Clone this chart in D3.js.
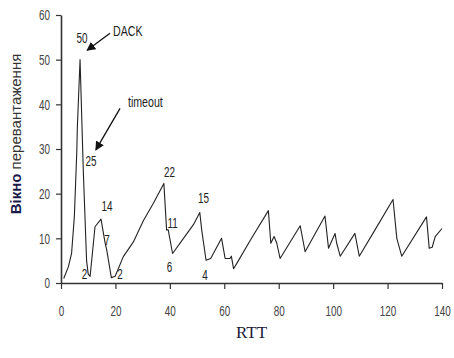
<!DOCTYPE html>
<html>
<head>
    <meta charset="utf-8">
    <title>Вікно перевантаження</title>
    <script src="https://d3js.org/d3.v7.min.js"></script>
    <style>
        body { margin: 0; background: #fff; }
    </style>
</head>
<body>
    <div id="chart"></div>
    <script>

// values
const rtt  = [1, 2.7, 3.9, 4.9, 5.8, 6, 7, 8.2, 9.4, 10, 10.7, 12.5, 14.7, 16.2, 16.8, 18.5,
              19.9, 22.9, 26.6, 30.3, 33.9, 37.8, 38.8, 39.4, 41, 45, 48.6, 51, 51.7, 53.3,
              55, 59, 60.3, 62.1, 62.6, 63.4, 64.6, 70, 76.2, 77.1, 78.3, 79.3, 80.5,
              87.9, 89.7, 97, 98.3, 100.7, 101.3, 102.6, 108, 109.6, 115, 122, 123.4, 125.2,
              134.3, 135.3, 136.4, 137.5, 140];
const cwnd = [1, 3.6, 6.7, 14.8, 29.4, 34.7, 50, 25, 5, 2, 1.5, 12.6, 14.3, 9, 7.4, 1.2,
              1.5, 5.9, 9.2, 14, 17.8, 22.3, 11.9, 11.9, 6.6, 10, 13, 15.8, 11.9, 5.1,
              5.5, 10, 5.5, 5.5, 6, 3.2, 4.4, 10, 16.2, 8.9, 10.4, 8.9, 5.5,
              12.8, 7, 15, 7.8, 11.1, 8.9, 6, 11.1, 6, 11.5, 18.7, 10, 6,
              14.8, 7.8, 8, 10.4, 12.2];

const xTicks = [0, 20, 40, 60, 80, 100, 120, 140];
const yTicks = [0, 10, 20, 30, 40, 50, 60];

const pointLabels = ["50", "25", "14", "7", "2", "2", "22", "11", "6", "15", "4"];
const pointLabelX = [7.7, 11, 16.9, 16.9, 8.6, 21.7, 39.9, 41, 39.9, 52.4, 52.9];
const pointLabelY = [55, 27.3, 17.2, 9.6, 2, 2, 24.8, 13.6, 3.6, 19.1, 1.9];

const notes = ["DACK", "timeout"];
const noteX = [19.1, 24.6];
const noteY = [56.5, 40.5];
const arrowFrom = [[18, 55.9], [21.7, 39.1]];
const arrowTo   = [[9.6, 52.1], [12.8, 29.8]];

const width = 454, height = 358;
const margin = {top: 15, right: 12, bottom: 75, left: 61};
const squeeze = 0.66; // the original uses a tall narrow face

const x = d3.scaleLinear().domain([0, 140]).range([margin.left, width - margin.right]);
const y = d3.scaleLinear().domain([0, 60]).range([height - margin.bottom, margin.top]);

const svg = d3.create("svg")
    .attr("width", width)
    .attr("height", height)
    .attr("viewBox", [0, 0, width, height])
    .style("font-family", "'Liberation Sans', Arial, sans-serif");

svg.append("defs").append("marker")
    .attr("id", "arrow")
    .attr("viewBox", "0 0 10 10")
    .attr("refX", 9).attr("refY", 5)
    .attr("markerWidth", 9).attr("markerHeight", 9)
    .attr("markerUnits", "userSpaceOnUse")
    .attr("orient", "auto")
  .append("path")
    .attr("d", "M0,0 L10,5 L0,10 z")
    .attr("fill", "#111");

// axes
const xAxis = svg.append("g")
    .attr("transform", `translate(0,${y(0)})`)
    .call(d3.axisBottom(x).tickValues(xTicks).tickSize(6).tickPadding(16).tickSizeOuter(0));

const yAxis = svg.append("g")
    .attr("transform", `translate(${x(0)},0)`)
    .call(d3.axisLeft(y).tickValues(yTicks).tickSize(5).tickPadding(6).tickSizeOuter(0));

[xAxis, yAxis].forEach(g => {
  g.select(".domain").attr("stroke", "#333").attr("stroke-width", 1.6);
  g.selectAll(".tick line").attr("stroke", "#333").attr("stroke-width", 1.2);
  g.selectAll(".tick text").attr("fill", "#444").attr("font-size", 15)
      .attr("transform", `scale(${squeeze},1)`);
});
yAxis.selectAll(".tick text").attr("x", -11 / squeeze);

// the series
const line = d3.line()
    .x(i => x(rtt[i]))
    .y(i => y(cwnd[i]));

svg.append("path")
    .attr("d", line(d3.range(rtt.length)))
    .attr("fill", "none")
    .attr("stroke", "#222")
    .attr("stroke-width", 1.1)
    .attr("stroke-linejoin", "round");

// value labels
svg.append("g")
    .attr("font-size", 15)
    .attr("fill", "#222")
    .attr("text-anchor", "middle")
  .selectAll("text")
  .data(pointLabels)
  .join("text")
    .attr("transform", (d, i) => `translate(${x(pointLabelX[i])},${y(pointLabelY[i])}) scale(${squeeze},1)`)
    .attr("dy", "0.35em")
    .text(d => d);

// notes with arrows
svg.append("g")
    .attr("font-size", 14)
    .attr("fill", "#222")
  .selectAll("text")
  .data(notes)
  .join("text")
    .attr("transform", (d, i) => `translate(${x(noteX[i])},${y(noteY[i])}) scale(${squeeze + 0.1},1)`)
    .attr("dy", "0.35em")
    .text(d => d);

svg.append("g")
  .selectAll("line")
  .data(arrowFrom)
  .join("line")
    .attr("x1", d => x(d[0]))
    .attr("y1", d => y(d[1]))
    .attr("x2", (d, i) => x(arrowTo[i][0]))
    .attr("y2", (d, i) => y(arrowTo[i][1]))
    .attr("stroke", "#111")
    .attr("stroke-width", 1.3)
    .attr("marker-end", "url(#arrow)");

// axis titles
svg.append("text")
    .attr("x", (margin.left + width - margin.right) / 2)
    .attr("y", 332)
    .attr("dy", "0.35em")
    .attr("text-anchor", "middle")
    .attr("font-family", "'Liberation Serif', 'Times New Roman', serif")
    .attr("font-size", 17)
    .attr("fill", "#1b1b3a")
    .text("RTT");

const yTitle = svg.append("text")
    .attr("transform", `translate(16,${134}) rotate(-90)`)
    .attr("text-anchor", "middle")
    .attr("dy", "0.35em")
    .attr("font-size", 15)
    .attr("fill", "#1b1b4a");
yTitle.append("tspan").attr("font-weight", "bold").text("Вікно");
yTitle.append("tspan").attr("fill", "#333").text(" перевантаження");

document.getElementById("chart").appendChild(svg.node());

    </script>
</body>
</html>
